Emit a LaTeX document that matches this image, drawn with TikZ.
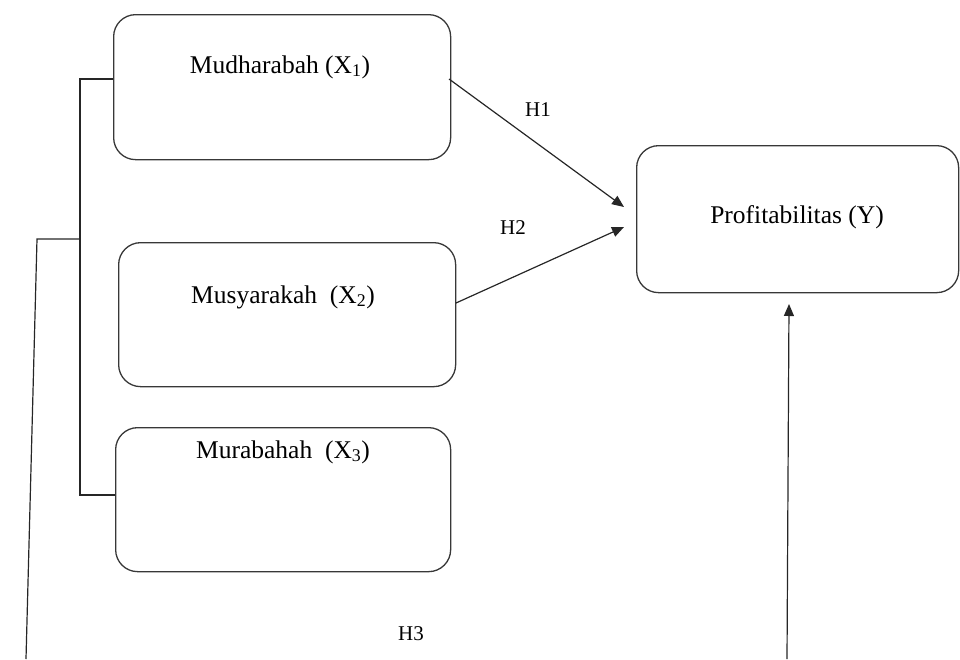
\documentclass[tikz,border=0pt]{standalone}
\usepackage{fontspec}
\setmainfont{Liberation Serif}
\usetikzlibrary{arrows.meta}
\begin{document}
\begin{tikzpicture}[x=1pt,y=-1pt,
  box/.style={draw=black!78,line width=1.3pt,rounded corners=22pt,inner sep=0pt,anchor=north west},
  boxtext/.style={inner sep=0pt,font=\fontsize{25.5}{30}\selectfont},
  hlabel/.style={inner sep=0pt,font=\fontsize{21}{25}\selectfont},
  conn/.style={draw=black!85,line width=1.2pt},
  arr/.style={conn,-{Triangle[length=12pt,width=10pt]}}]
\useasboundingbox (0,0) rectangle (960,659);
% boxes
\node[box,minimum width=337pt,minimum height=145pt] (b1) at (113,14) {};
\node[box,minimum width=337pt,minimum height=144pt] (b2) at (118,242) {};
\node[box,minimum width=335pt,minimum height=144pt] (b3) at (115,427) {};
\node[box,minimum width=322pt,minimum height=147pt] (by) at (636,145) {};
% texts
\node[boxtext] (t1) at (280,67) {Mudharabah (X\textsubscript{1})};
\node[boxtext] (t2) at (283,297) {Musyarakah~ (X\textsubscript{2})};
\node[boxtext] (t3) at (283,452) {Murabahah~ (X\textsubscript{3})};
\node[boxtext] (ty) at (797,217) {Profitabilitas (Y)};
% hypothesis labels
\node[hlabel] (h1) at (538,110) {H1};
\node[hlabel] (h2) at (513,228) {H2};
\node[hlabel] (h3) at (411,634) {H3};
% bracket
\coordinate (bt) at (80,79);
\coordinate (bm) at (80,239);
\coordinate (bb) at (80,495);
\coordinate (bl) at (37,239);
\coordinate (lb) at (26,659);
\draw[conn] (bt -| b1.west) -- (bt) -- (bb) -- (bb -| b3.west);
\draw[conn] (bm) -- (bl) -- (lb);
% arrows
\coordinate (a1s) at (449,79);
\coordinate (a1e) at (624,207);
\coordinate (a2s) at (456,303);
\coordinate (a2e) at (624,227);
\coordinate (rb) at (787,659);
\coordinate (rt) at (789,304);
\draw[arr] (a1s) -- (a1e);
\draw[arr] (a2s) -- (a2e);
\draw[arr] (rb) -- (rt);
\end{tikzpicture}
\end{document}
